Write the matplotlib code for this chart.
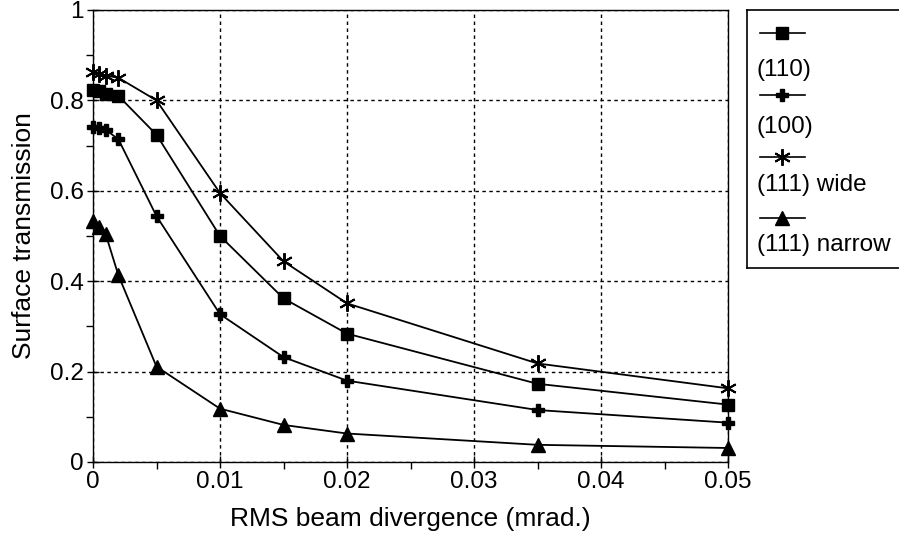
import numpy as np
import matplotlib.pyplot as plt
from matplotlib.lines import Line2D
from matplotlib.ticker import MultipleLocator

plt.rcParams['font.family'] = ['Liberation Sans', 'DejaVu Sans']

# beam divergence (mrad.)
divergence = [0, 0.0005, 0.001, 0.002, 0.005, 0.01, 0.015, 0.02, 0.035, 0.05]

# surface transmission
t_110 = [0.822, 0.820, 0.815, 0.810, 0.724, 0.500, 0.362, 0.284, 0.173, 0.127]
t_100 = [0.742, 0.740, 0.735, 0.714, 0.544, 0.327, 0.232, 0.180, 0.115, 0.087]
t_111_wide = [0.862, 0.858, 0.855, 0.850, 0.800, 0.595, 0.444, 0.351, 0.218, 0.163]
t_111_narrow = [0.533, 0.520, 0.504, 0.413, 0.211, 0.118, 0.082, 0.063, 0.038, 0.031]

series_labels = ['(110)', '(100)', '(111) wide', '(111) narrow']
x_ticks = [0, 0.01, 0.02, 0.03, 0.04, 0.05]
x_ticklabels = ['0', '0.01', '0.02', '0.03', '0.04', '0.05']
y_ticks = [0, 0.2, 0.4, 0.6, 0.8, 1]
y_ticklabels = ['0', '0.2', '0.4', '0.6', '0.8', '1']

styles = [
    dict(marker='s', markersize=9),
    dict(marker='P', markersize=8.5),
    dict(marker=(6, 2, 0), markersize=12, markeredgewidth=1.4),
    dict(marker='^', markersize=9.5),
]

fig = plt.figure(figsize=(8.99, 5.39), dpi=100)
ax = fig.add_axes([93/899, 77/539, 635/899, 452/539])

for ys, st in zip([t_110, t_100, t_111_wide, t_111_narrow], styles):
    ax.plot(divergence, ys, color='black', linewidth=1.3, clip_on=False,
            markerfacecolor='black', markeredgecolor='black', **st)

ax.set_xlim(0, 0.05)
ax.set_ylim(0, 1)
ax.set_xticks(x_ticks)
ax.set_xticklabels(x_ticklabels)
ax.set_yticks(y_ticks)
ax.set_yticklabels(y_ticklabels)
ax.xaxis.set_minor_locator(MultipleLocator(0.005))
ax.yaxis.set_minor_locator(MultipleLocator(0.1))
ax.tick_params(which='major', direction='inout', length=9, width=1, labelsize=17.5, pad=2)
ax.tick_params(which='minor', direction='out', length=5, width=1)
ax.grid(True, which='major', color='black', linestyle=(0, (2.5, 2.5)), linewidth=1)
for s in ax.spines.values():
    s.set_linewidth(1)
ax.set_xlabel('RMS beam divergence (mrad.)', fontsize=19, labelpad=10)
ax.set_ylabel('Surface transmission', fontsize=19, labelpad=10)

# legend box: handle on one row, label on the row below (runs off the right edge)
lax = fig.add_axes([747/899, (539-268)/539, 175/899, 258/539])
lax.set_xlim(0, 175)
lax.set_ylim(268, 10)
lax.set_xticks([])
lax.set_yticks([])
lax.patch.set_facecolor('white')
for s in lax.spines.values():
    s.set_linewidth(1.2)
handle_rows = [33, 95, 157, 218]
label_rows = [70, 127, 185, 245]
for st, lab, hy, ly in zip(styles, series_labels, handle_rows, label_rows):
    lax.add_line(Line2D([13, 58], [hy, hy], color='black', linewidth=1.2))
    lax.add_line(Line2D([35], [hy], color='black', markerfacecolor='black',
                        markeredgecolor='black', **st))
    lax.text(10, ly, lab, fontsize=17.5, va='center', ha='left')

fig.savefig('out.png', dpi=100)
